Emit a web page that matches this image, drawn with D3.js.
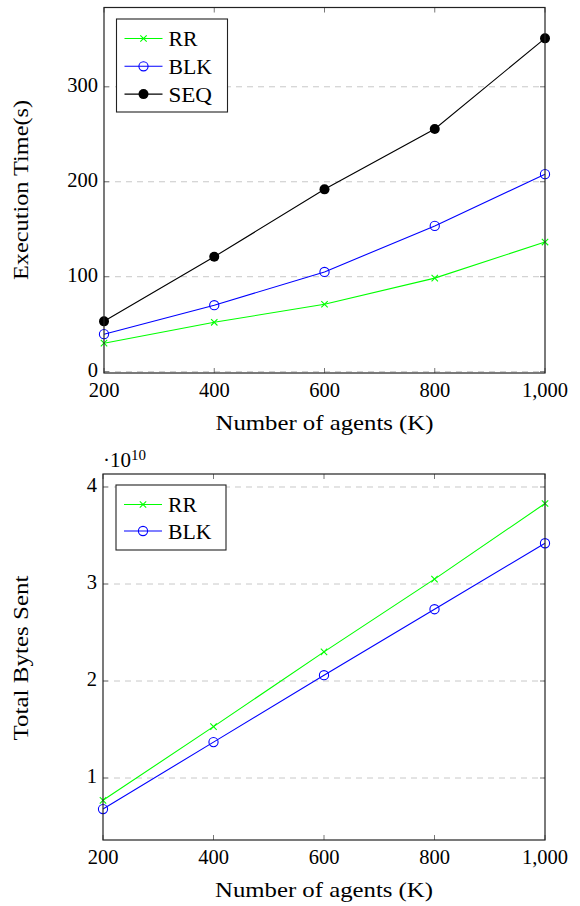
<!DOCTYPE html>
<html>
<head>
<meta charset="utf-8">
<script src="https://cdn.jsdelivr.net/npm/d3@7"></script>
<style>
    body { margin: 0; background: white; }
    svg text { font-family: "Liberation Serif", "DejaVu Serif", serif; fill: black; }
</style>
</head>
<body>
<script>
(function () {
    "use strict";

    // x categories (number of agents, K)
    var agents = [200, 400, 600, 800, 1000];
    var xTicks = [200, 400, 600, 800, 1000];

    // top panel: execution time (s)
    var timeRR = [30, 52, 71, 98.5, 136.5];
    var timeBLK = [39.5, 70, 105, 153.5, 208];
    var timeSEQ = [53, 121, 192, 255.5, 351];
    var timeTicks = [0, 100, 200, 300];

    // bottom panel: total bytes sent (x 10^10)
    var bytesRR = [0.77, 1.53, 2.30, 3.05, 3.83];
    var bytesBLK = [0.68, 1.37, 2.06, 2.74, 3.42];
    var bytesTicks = [1, 2, 3, 4];

    var width = 580, height = 906;

    var svg = d3.select("body").append("svg")
        .attr("width", width)
        .attr("height", height);

    var plot = {};

    plot.series = {
        RR: {color: "#00ff00", marker: "cross"},
        BLK: {color: "#0000ff", marker: "circle"},
        SEQ: {color: "#000000", marker: "dot"}
    };

    plot.drawMarker = function (g, kind, color, x, y) {
        if (kind === "cross") {
            var s = 3.2;
            g.append("path")
                .attr("d", "M" + (x - s) + "," + (y - s) + "L" + (x + s) + "," + (y + s) +
                    "M" + (x - s) + "," + (y + s) + "L" + (x + s) + "," + (y - s))
                .attr("stroke", color)
                .attr("stroke-width", 1.1)
                .attr("fill", "none");
        } else if (kind === "circle") {
            g.append("circle")
                .attr("cx", x).attr("cy", y).attr("r", 4.6)
                .attr("fill", "none")
                .attr("stroke", color)
                .attr("stroke-width", 1.1);
        } else {
            g.append("circle")
                .attr("cx", x).attr("cy", y).attr("r", 5)
                .attr("fill", color);
        }
    };

    plot.panel = function (opts) {
        var x = d3.scaleLinear().domain([200, 1000]).range([opts.left, opts.right]);
        var y = d3.scaleLinear().domain(opts.yDomain).range([opts.bottom, opts.top]);

        var g = svg.append("g");

        // dashed grid
        g.selectAll("line.grid").data(opts.yTicks).enter().append("line")
            .attr("class", "grid")
            .attr("x1", opts.left).attr("x2", opts.right)
            .attr("y1", function (d) { return y(d); })
            .attr("y2", function (d) { return y(d); })
            .attr("stroke", "#c8c8c8")
            .attr("stroke-width", 1)
            .attr("stroke-dasharray", "6,5");

        // inner ticks on all four sides
        var tl = 5;
        xTicks.forEach(function (t) {
            g.append("line")
                .attr("x1", x(t)).attr("x2", x(t))
                .attr("y1", opts.bottom).attr("y2", opts.bottom - tl)
                .attr("stroke", "#777").attr("stroke-width", 1);
            g.append("line")
                .attr("x1", x(t)).attr("x2", x(t))
                .attr("y1", opts.top).attr("y2", opts.top + tl)
                .attr("stroke", "#777").attr("stroke-width", 1);
        });
        opts.yTicks.forEach(function (t) {
            g.append("line")
                .attr("x1", opts.left).attr("x2", opts.left + tl)
                .attr("y1", y(t)).attr("y2", y(t))
                .attr("stroke", "#777").attr("stroke-width", 1);
            g.append("line")
                .attr("x1", opts.right).attr("x2", opts.right - tl)
                .attr("y1", y(t)).attr("y2", y(t))
                .attr("stroke", "#777").attr("stroke-width", 1);
        });

        // series lines + markers
        opts.series.forEach(function (s) {
            var st = plot.series[s.name];
            var line = d3.line()
                .x(function (d, i) { return x(agents[i]); })
                .y(function (d) { return y(d); });
            g.append("path")
                .datum(s.values)
                .attr("d", line)
                .attr("fill", "none")
                .attr("stroke", st.color)
                .attr("stroke-width", 1.1);
            s.values.forEach(function (v, i) {
                plot.drawMarker(g, st.marker, st.color, x(agents[i]), y(v));
            });
        });

        // frame
        g.append("rect")
            .attr("x", opts.left).attr("y", opts.top)
            .attr("width", opts.right - opts.left)
            .attr("height", opts.bottom - opts.top)
            .attr("fill", "none")
            .attr("stroke", "#222")
            .attr("stroke-width", 1.2);

        // tick labels
        var fmt = d3.format(",");
        g.selectAll("text.xt").data(xTicks).enter().append("text")
            .attr("x", function (d) { return x(d); })
            .attr("y", opts.bottom + 24)
            .attr("text-anchor", "middle")
            .attr("font-size", 20.5)
            .text(function (d) { return fmt(d); });
        g.selectAll("text.yt").data(opts.yTicks).enter().append("text")
            .attr("x", opts.left - 6)
            .attr("y", function (d) { return y(d) + 5; })
            .attr("text-anchor", "end")
            .attr("font-size", 20.5)
            .text(function (d) { return d; });

        // axis labels
        g.append("text")
            .attr("x", (opts.left + opts.right) / 2)
            .attr("y", opts.bottom + 57)
            .attr("text-anchor", "middle")
            .attr("font-size", 21)
            .attr("textLength", 218)
            .attr("lengthAdjust", "spacingAndGlyphs")
            .text("Number of agents (K)");
        g.append("text")
            .attr("transform", "translate(" + 28 + "," + opts.labelY + ") rotate(-90)")
            .attr("text-anchor", "middle")
            .attr("font-size", 21)
            .attr("textLength", opts.yLabelLength)
            .attr("lengthAdjust", "spacingAndGlyphs")
            .text(opts.yLabel);

        // legend
        var lg = opts.legend;
        g.append("rect")
            .attr("x", lg.x).attr("y", lg.y)
            .attr("width", lg.w).attr("height", lg.h)
            .attr("fill", "white")
            .attr("stroke", "#222")
            .attr("stroke-width", 1.1);
        opts.series.forEach(function (s, i) {
            var st = plot.series[s.name];
            var cy = lg.y + lg.first + i * lg.step;
            g.append("line")
                .attr("x1", lg.x + 8).attr("x2", lg.x + 46)
                .attr("y1", cy).attr("y2", cy)
                .attr("stroke", st.color).attr("stroke-width", 1.1);
            plot.drawMarker(g, st.marker, st.color, lg.x + 27, cy);
            g.append("text")
                .attr("x", lg.x + 52)
                .attr("y", cy + 7.5)
                .attr("font-size", 22)
                .attr("textLength", s.name.length * 14.5)
                .attr("lengthAdjust", "spacingAndGlyphs")
                .text(s.name);
        });

        return {x: x, y: y};
    };

    plot.panel({
        left: 104, right: 545, top: 7.5, bottom: 373,
        yDomain: [-1.4, 383.5],
        yTicks: timeTicks,
        yLabel: "Execution Time(s)",
        yLabelLength: 180,
        labelY: 190,
        series: [
            {name: "RR", values: timeRR},
            {name: "BLK", values: timeBLK},
            {name: "SEQ", values: timeSEQ}
        ],
        legend: {x: 116.5, y: 19, w: 111, h: 93, first: 19.5, step: 27.8}
    });

    plot.panel({
        left: 103, right: 545, top: 474, bottom: 840,
        yDomain: [0.361, 4.134],
        yTicks: bytesTicks,
        yLabel: "Total Bytes Sent",
        yLabelLength: 165,
        labelY: 658,
        series: [
            {name: "RR", values: bytesRR},
            {name: "BLK", values: bytesBLK}
        ],
        legend: {x: 116, y: 485, w: 110, h: 65, first: 19.5, step: 26.5}
    });

    // scale factor for the bottom axis
    var exp = svg.append("text")
        .attr("x", 103)
        .attr("y", 467)
        .attr("font-size", 21);
    exp.append("tspan").text("\u00b710");
    exp.append("tspan").attr("font-size", 15).attr("dy", -7).text("10");

})();
</script>
</body>
</html>
